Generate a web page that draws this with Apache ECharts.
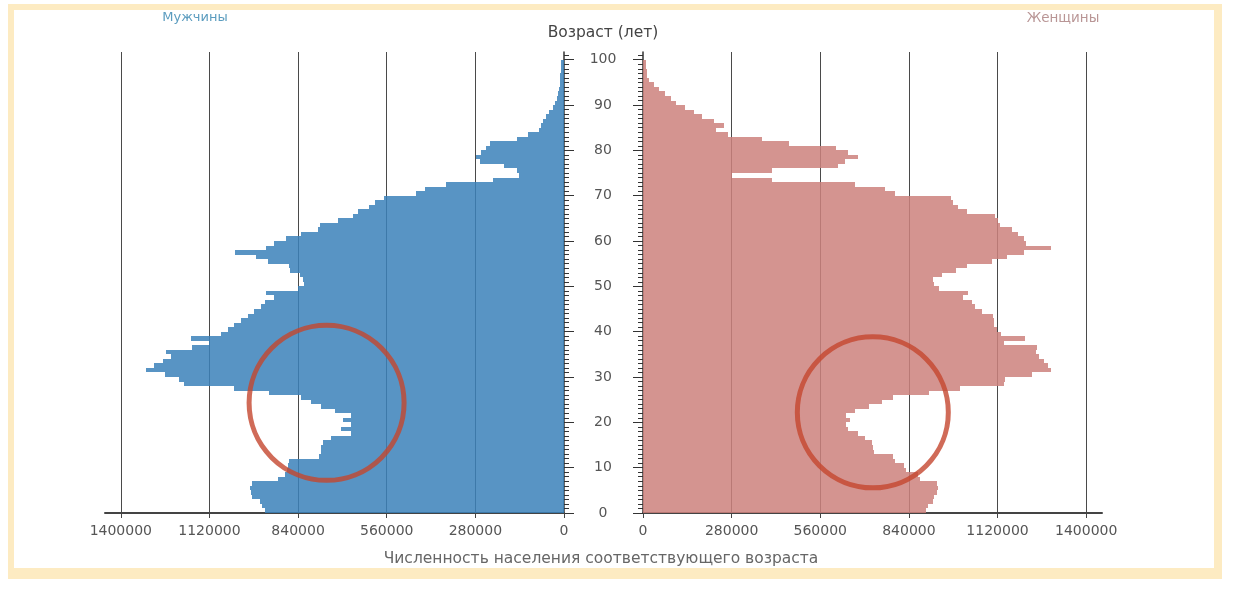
<!DOCTYPE html>
<html>
<head>
<meta charset="utf-8">
<script src="https://cdn.jsdelivr.net/npm/echarts@6/dist/echarts.min.js"></script>
<style>
html,body{margin:0;padding:0;background:#ffffff;}
#chart{width:1240px;height:590px;}
</style>
</head>
<body>
<div id="chart"></div>
<script>
// ---- data (ages 0..99, one bar per single year of age) ----
const ages = [0,1,2,3,4,5,6,7,8,9,10,11,12,13,14,15,16,17,18,19,20,21,22,23,24,25,26,27,28,29,30,31,32,33,34,35,36,37,38,39,40,41,42,43,44,45,46,47,48,49,50,51,52,53,54,55,56,57,58,59,60,61,62,63,64,65,66,67,68,69,70,71,72,73,74,75,76,77,78,79,80,81,82,83,84,85,86,87,88,89,90,91,92,93,94,95,96,97,98,99];

const male = [945000,955000,960000,985000,990000,992000,985000,905000,880000,875000,
  873000,870000,775000,768000,767000,762000,736000,673000,704000,673000,
  699000,673000,725000,767000,799000,831000,931000,1041000,1199000,1215000,
  1262000,1320000,1294000,1267000,1241000,1257000,1175000,1120000,1178000,1083000,
  1062000,1041000,1020000,999000,978000,957000,946000,915000,941000,841000,
  822000,825000,835000,866000,870000,936000,973000,1040000,941000,915000,
  878000,830000,778000,772000,715000,668000,650000,615000,598000,570000,
  468000,440000,372000,225000,142000,148000,190000,265000,278000,262000,
  245000,235000,150000,115000,80000,72000,66000,58000,47000,36000,
  27000,21000,18000,15000,14000,13000,12000,11000,10000,9000];

const female = [895000,900000,915000,920000,930000,932000,928000,875000,868000,830000,
  825000,795000,790000,730000,725000,722000,700000,680000,648000,640000,
  655000,640000,670000,713000,755000,790000,905000,1000000,1140000,1145000,
  1230000,1289000,1280000,1268000,1250000,1240000,1245000,1140000,1208000,1130000,
  1118000,1108000,1108000,1105000,1070000,1050000,1040000,1010000,1028000,935000,
  918000,917000,945000,990000,1025000,1103000,1150000,1205000,1290000,1210000,
  1205000,1185000,1165000,1127000,1120000,1112000,1025000,995000,978000,972000,
  795000,765000,670000,406000,282000,406000,615000,638000,680000,648000,
  610000,462000,375000,268000,232000,255000,225000,185000,162000,132000,
  105000,88000,68000,52000,36000,20000,14000,12000,11000,10000];

const xTickValues = [0, 280000, 560000, 840000, 1120000, 1400000];
const ageTickValues = [0, 10, 20, 30, 40, 50, 60, 70, 80, 90, 100];

// highlighted (circled) regions: [population, age]
const maleHighlight = [[750000, 24.3]];
const femaleHighlight = [[726000, 22.2]];

const titleMale = 'Мужчины';
const titleFemale = 'Женщины';
const ageAxisName = 'Возраст (лет)';
const popAxisName = 'Численность населения соответствующего возраста';

// ---- styles ----
const FONT = '"DejaVu Sans", "Liberation Sans", Arial, sans-serif';
const maleColor = 'rgba(59,129,186,0.85)';
const femaleColor = 'rgba(204,129,124,0.85)';
const gridLineColor = '#4a4a4a';
const axisColor = '#444444';
const labelColor = '#555555';
const circleColor = '#c4462e';
const frameColor = '#fdebc2';

function toItems(values) {
  return ages.map((a, i) => [a, values[i]]);
}

function renderBar(params, api) {
  const age = api.value(0);
  const v = api.value(1);
  const p0 = api.coord([0, age]);
  const p1 = api.coord([v, age + 1]);
  const x0 = Math.round(Math.min(p0[0], p1[0]));
  const x1 = Math.round(Math.max(p0[0], p1[0]));
  const yTop = Math.round(Math.min(p0[1], p1[1]));
  const yBot = Math.round(Math.max(p0[1], p1[1]));
  return {
    type: 'rect',
    shape: { x: x0, y: yTop, width: x1 - x0, height: yBot - yTop },
    style: { fill: api.visual('color') }
  };
}

function plainNumber(v) { return String(Math.round(v)); }

function xAxisCfg(gridIndex, inverse) {
  return {
    type: 'value', gridIndex: gridIndex, inverse: inverse,
    min: 0, max: 1450000, interval: 280000,
    axisLine: { show: true, lineStyle: { color: axisColor, width: 2 } },
    axisTick: { show: true, length: 5, customValues: xTickValues, lineStyle: { color: axisColor, width: 1 } },
    axisLabel: { show: true, customValues: xTickValues, formatter: plainNumber, margin: 11, color: labelColor, fontSize: 14, fontFamily: FONT },
    splitLine: { show: true, showMinLine: false, lineStyle: { color: gridLineColor, width: 1 } }
  };
}

function yAxisCfg(gridIndex, position, showLabels) {
  return {
    type: 'value', gridIndex: gridIndex, position: position,
    min: 0, max: 101.7, interval: 10,
    axisLine: { show: true, onZero: false, lineStyle: { color: '#333', width: 1.5 } },
    axisTick: { show: true, length: 10, customValues: ageTickValues, lineStyle: { color: '#333', width: 1 } },
    minorTick: { show: true, splitNumber: 10, length: 5, lineStyle: { color: '#333', width: 1 } },
    axisLabel: { show: showLabels, customValues: ageTickValues, formatter: plainNumber, align: 'center', margin: 40, color: labelColor, fontSize: 14, fontFamily: FONT },
    splitLine: { show: false },
    minorSplitLine: { show: false }
  };
}

const chart = echarts.init(document.getElementById('chart'), null, { renderer: 'canvas' });

chart.setOption({
  animation: false,
  backgroundColor: '#ffffff',
  grid: [
    { left: 105, right: 676, top: 52, bottom: 77, containLabel: false },
    { left: 643, right: 138, top: 52, bottom: 77, containLabel: false }
  ],
  xAxis: [xAxisCfg(0, true), xAxisCfg(1, false)],
  yAxis: [yAxisCfg(0, 'right', false), yAxisCfg(1, 'left', true)],
  series: [
    {
      name: titleMale, type: 'custom', xAxisIndex: 0, yAxisIndex: 0,
      renderItem: renderBar, encode: { x: 1, y: 0 },
      itemStyle: { color: maleColor }, data: toItems(male), z: 2, silent: true
    },
    {
      name: titleFemale, type: 'custom', xAxisIndex: 1, yAxisIndex: 1,
      renderItem: renderBar, encode: { x: 1, y: 0 },
      itemStyle: { color: femaleColor }, data: toItems(female), z: 2, silent: true
    },
    {
      type: 'scatter', xAxisIndex: 0, yAxisIndex: 0, data: maleHighlight,
      symbol: 'circle', symbolSize: 155, silent: true, z: 5,
      itemStyle: { color: 'rgba(0,0,0,0)', borderColor: circleColor, borderWidth: 5 }
    },
    {
      type: 'scatter', xAxisIndex: 1, yAxisIndex: 1, data: femaleHighlight,
      symbol: 'circle', symbolSize: 151, silent: true, z: 5,
      itemStyle: { color: 'rgba(0,0,0,0)', borderColor: circleColor, borderWidth: 5 }
    }
  ],
  graphic: [
    { type: 'rect', z: -10, silent: true, shape: { x: 8, y: 4, width: 1214, height: 6 }, style: { fill: frameColor } },
    { type: 'rect', z: -10, silent: true, shape: { x: 8, y: 568, width: 1214, height: 11 }, style: { fill: frameColor } },
    { type: 'rect', z: -10, silent: true, shape: { x: 8, y: 4, width: 6, height: 575 }, style: { fill: frameColor } },
    { type: 'rect', z: -10, silent: true, shape: { x: 1214, y: 4, width: 8, height: 575 }, style: { fill: frameColor } },
    { type: 'text', silent: true, x: 195, y: 18, style: { text: titleMale, fill: '#5b9cbf', font: '13px ' + FONT, textAlign: 'center', textVerticalAlign: 'middle' } },
    { type: 'text', silent: true, x: 1063, y: 18, style: { text: titleFemale, fill: '#b99696', font: '13.5px ' + FONT, textAlign: 'center', textVerticalAlign: 'middle' } },
    { type: 'text', silent: true, x: 603, y: 33, style: { text: ageAxisName, fill: '#444444', font: '15.5px ' + FONT, textAlign: 'center', textVerticalAlign: 'middle' } },
    { type: 'text', silent: true, x: 601, y: 559, style: { text: popAxisName, fill: '#666666', font: '15.5px ' + FONT, textAlign: 'center', textVerticalAlign: 'middle' } }
  ]
});
</script>
</body>
</html>
